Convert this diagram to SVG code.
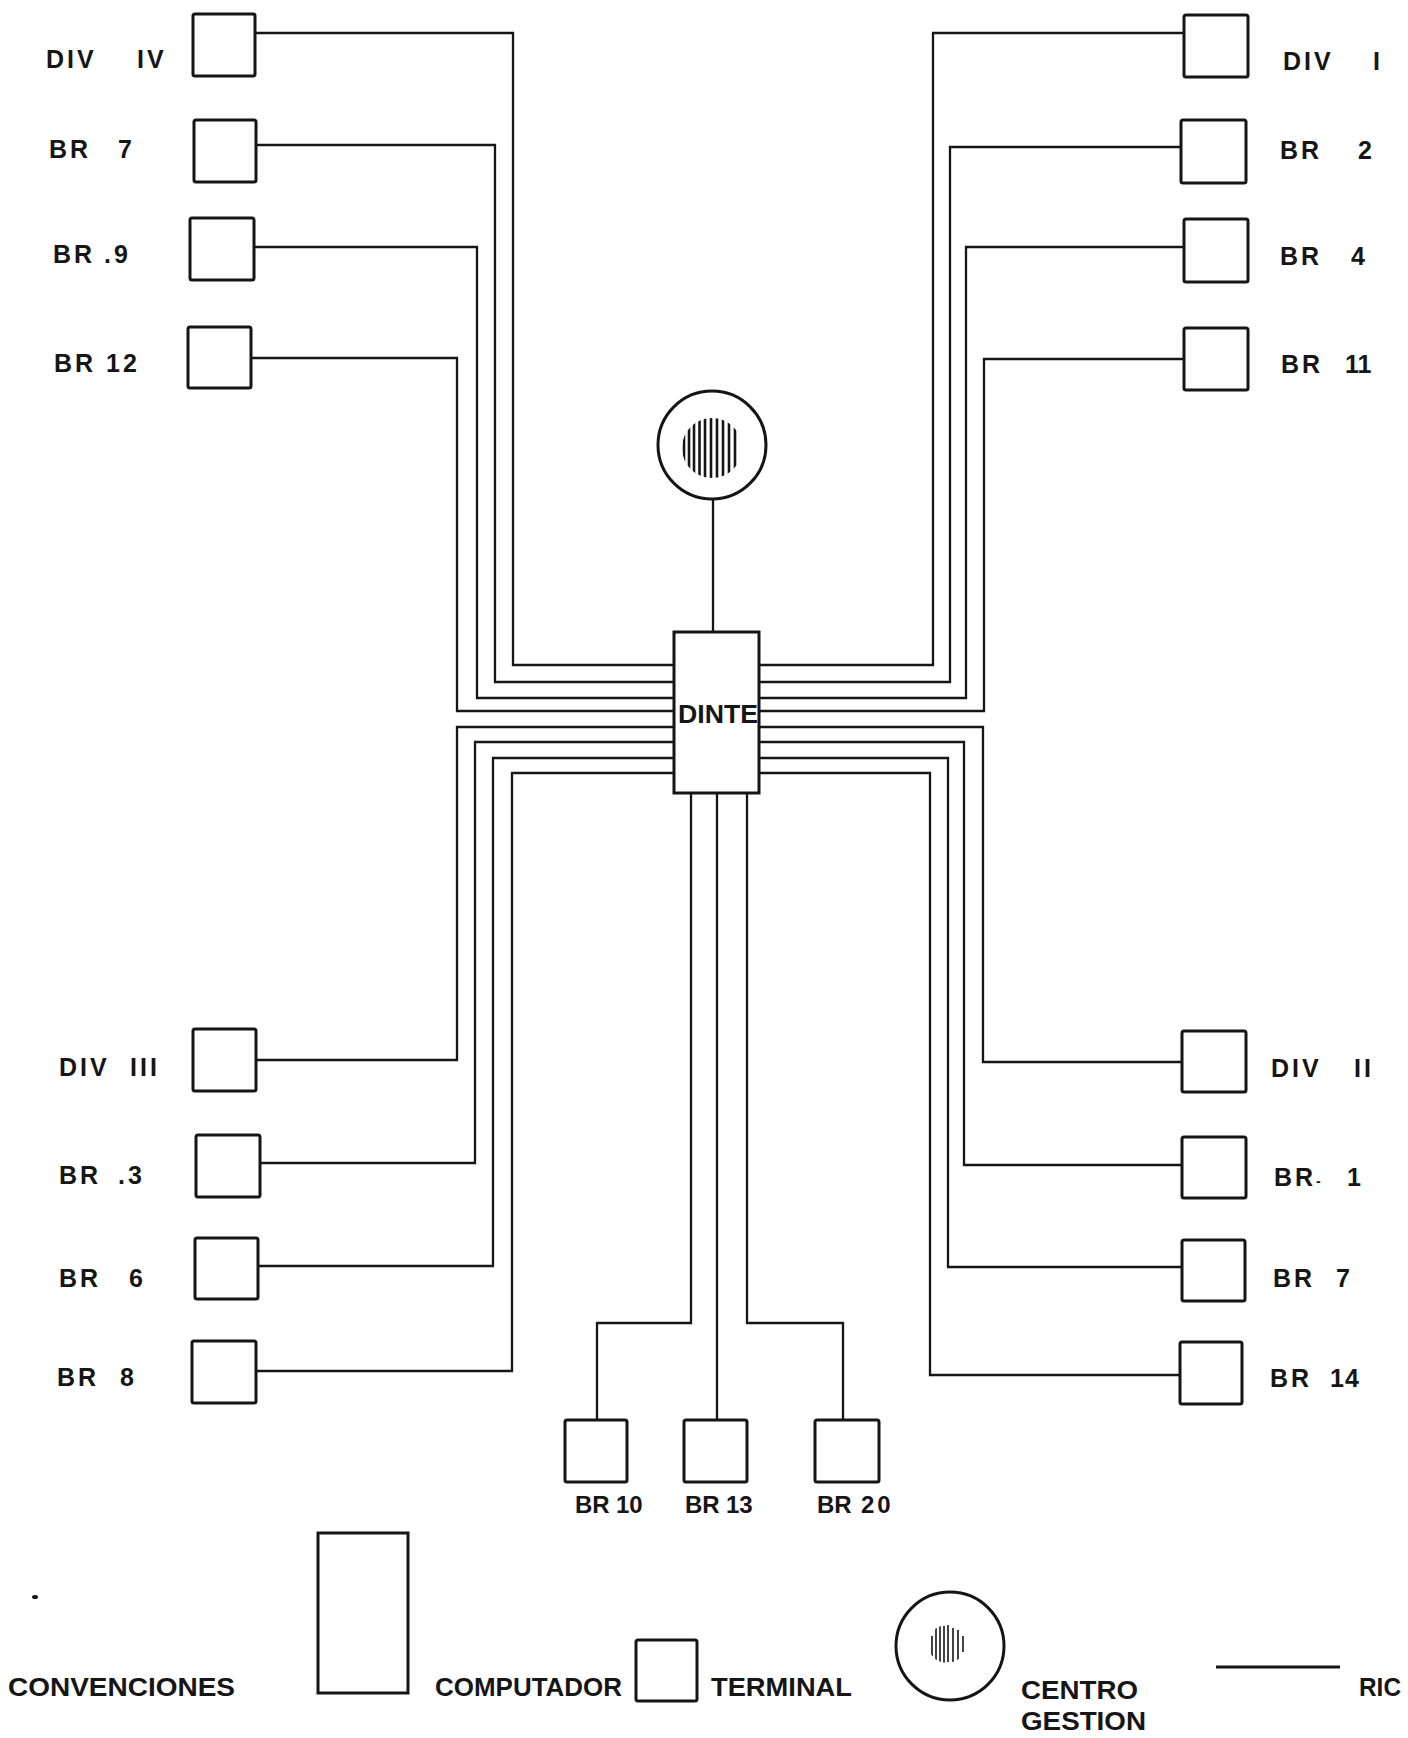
<svg xmlns="http://www.w3.org/2000/svg" width="1408" height="1738" viewBox="0 0 1408 1738">
<style>
.box{fill:none;stroke:#151515;stroke-width:3}
.wire{fill:none;stroke:#151515;stroke-width:2.3;stroke-linejoin:miter}
.lbl{font-family:"Liberation Sans",Arial,sans-serif;font-weight:700;font-size:25px;letter-spacing:3px;fill:#161616}
.lbl2{font-family:"Liberation Sans",Arial,sans-serif;font-weight:700;font-size:24px;fill:#161616}
.leg{font-family:"Liberation Sans",Arial,sans-serif;font-weight:700;font-size:26px;fill:#161616}
.hatch{stroke:#151515;stroke-width:2.6}
.hatch2{stroke:#151515;stroke-width:1.6}
</style>
<defs>
<clipPath id="hc"><circle cx="712" cy="448" r="30"/></clipPath>
<clipPath id="hc2"><circle cx="947" cy="1644" r="19"/></clipPath>
</defs>
<rect x="0" y="0" width="1408" height="1738" fill="#ffffff"/>

<g id="connectors">
<path class="wire" d="M255,33 H513 V665 H674"/>
<path class="wire" d="M256,145 H495 V682 H674"/>
<path class="wire" d="M254,247 H477 V698 H674"/>
<path class="wire" d="M251,358 H457 V711 H674"/>
<path class="wire" d="M1184,33 H933 V665 H759"/>
<path class="wire" d="M1181,147 H950 V682 H759"/>
<path class="wire" d="M1184,247 H966 V698 H759"/>
<path class="wire" d="M1184,359 H984 V711 H759"/>
<path class="wire" d="M674,727 H457 V1060 H256"/>
<path class="wire" d="M674,742 H475 V1163 H260"/>
<path class="wire" d="M674,758 H493 V1266 H258"/>
<path class="wire" d="M674,773 H512 V1371 H256"/>
<path class="wire" d="M759,727 H983 V1062 H1182"/>
<path class="wire" d="M759,742 H964 V1165 H1182"/>
<path class="wire" d="M759,758 H948 V1267 H1182"/>
<path class="wire" d="M759,773 H930 V1375 H1180"/>
<path class="wire" d="M713,499 V632"/>
<path class="wire" d="M691,793 V1323 H597 V1420"/>
<path class="wire" d="M717,793 V1420"/>
<path class="wire" d="M747,793 V1323 H843 V1420"/>
</g>

<g id="centro-gestion">
<circle class="box" cx="712" cy="445" r="54"/>
<g clip-path="url(#hc)">
<line class="hatch" x1="684" y1="410" x2="684" y2="490"/>
<line class="hatch" x1="689" y1="410" x2="689" y2="490"/>
<line class="hatch" x1="694" y1="410" x2="694" y2="490"/>
<line class="hatch" x1="699.5" y1="410" x2="699.5" y2="490"/>
<line class="hatch" x1="705" y1="410" x2="705" y2="490"/>
<line class="hatch" x1="711" y1="410" x2="711" y2="490"/>
<line class="hatch" x1="717" y1="410" x2="717" y2="490"/>
<line class="hatch" x1="723" y1="410" x2="723" y2="490"/>
<line class="hatch" x1="729" y1="410" x2="729" y2="490"/>
<line class="hatch" x1="735" y1="422" x2="735" y2="470"/>
</g>
</g>

<g id="dinte">
<rect class="box" x="674" y="632" width="85" height="161"/>
<text class="lbl" x="678" y="723" style="letter-spacing:0" textLength="80" lengthAdjust="spacingAndGlyphs">DINTE</text>
</g>

<g id="div-iv"><rect class="box" x="193" y="14" width="62" height="62" rx="2"/><text class="lbl" y="68"><tspan x="46">DIV</tspan> <tspan x="137">IV</tspan></text></g>
<g id="br-7-left"><rect class="box" x="194" y="120" width="62" height="62" rx="2"/><text class="lbl" y="158"><tspan x="49">BR</tspan> <tspan x="118">7</tspan></text></g>
<g id="br-9"><rect class="box" x="190" y="218" width="64" height="62" rx="2"/><text class="lbl" y="263"><tspan x="53">BR</tspan> <tspan x="104">.9</tspan></text></g>
<g id="br-12"><rect class="box" x="188" y="327" width="63" height="61" rx="2"/><text class="lbl" y="372"><tspan x="54">BR</tspan> <tspan x="106">12</tspan></text></g>

<g id="div-i"><rect class="box" x="1184" y="15" width="64" height="62" rx="2"/><text class="lbl" y="70"><tspan x="1283">DIV</tspan> <tspan x="1373">I</tspan></text></g>
<g id="br-2"><rect class="box" x="1181" y="120" width="65" height="63" rx="2"/><text class="lbl" y="159"><tspan x="1280">BR</tspan> <tspan x="1358">2</tspan></text></g>
<g id="br-4"><rect class="box" x="1184" y="219" width="64" height="63" rx="2"/><text class="lbl" y="265"><tspan x="1280">BR</tspan> <tspan x="1351">4</tspan></text></g>
<g id="br-11"><rect class="box" x="1184" y="328" width="64" height="62" rx="2"/><text class="lbl" y="373"><tspan x="1281">BR</tspan> <tspan x="1345" style="letter-spacing:0">11</tspan></text></g>

<g id="div-iii"><rect class="box" x="193" y="1029" width="63" height="62" rx="2"/><text class="lbl" y="1076"><tspan x="59">DIV</tspan> <tspan x="130">III</tspan></text></g>
<g id="br-3"><rect class="box" x="196" y="1135" width="64" height="62" rx="2"/><text class="lbl" y="1184"><tspan x="59">BR</tspan> <tspan x="118">.3</tspan></text></g>
<g id="br-6"><rect class="box" x="195" y="1238" width="63" height="61" rx="2"/><text class="lbl" y="1287"><tspan x="59">BR</tspan> <tspan x="129">6</tspan></text></g>
<g id="br-8"><rect class="box" x="192" y="1341" width="64" height="62" rx="2"/><text class="lbl" y="1386"><tspan x="57">BR</tspan> <tspan x="120">8</tspan></text></g>

<g id="div-ii"><rect class="box" x="1182" y="1031" width="64" height="61" rx="2"/><text class="lbl" y="1077"><tspan x="1271">DIV</tspan> <tspan x="1354">II</tspan></text></g>
<g id="br-1"><rect class="box" x="1182" y="1137" width="64" height="61" rx="2"/><text class="lbl" y="1186"><tspan x="1274">BR</tspan><tspan x="1316" style="font-size:14px">-</tspan> <tspan x="1347">1</tspan></text></g>
<g id="br-7-right"><rect class="box" x="1182" y="1240" width="63" height="61" rx="2"/><text class="lbl" y="1287"><tspan x="1273">BR</tspan> <tspan x="1336">7</tspan></text></g>
<g id="br-14"><rect class="box" x="1180" y="1342" width="62" height="62" rx="2"/><text class="lbl" y="1387"><tspan x="1270">BR</tspan> <tspan x="1330" style="letter-spacing:1px">14</tspan></text></g>

<g id="br-10"><rect class="box" x="565" y="1420" width="62" height="62" rx="2"/><text class="lbl2" y="1513"><tspan x="575">BR</tspan> <tspan x="616">10</tspan></text></g>
<g id="br-13"><rect class="box" x="684" y="1420" width="63" height="62" rx="2"/><text class="lbl2" y="1513"><tspan x="685">BR</tspan> <tspan x="726">13</tspan></text></g>
<g id="br-20"><rect class="box" x="815" y="1420" width="64" height="62" rx="2"/><text class="lbl2" y="1513"><tspan x="817">BR</tspan> <tspan x="861" style="letter-spacing:3px">20</tspan></text></g>

<g id="legend">
<ellipse cx="35" cy="1597" rx="3" ry="2" fill="#151515"/>
<text class="leg" x="8" y="1696" textLength="227" lengthAdjust="spacingAndGlyphs">CONVENCIONES</text>
<rect class="box" x="318" y="1533" width="90" height="160"/>
<text class="leg" x="435" y="1696" textLength="187" lengthAdjust="spacingAndGlyphs">COMPUTADOR</text>
<rect class="box" x="636" y="1640" width="61" height="61" rx="2"/>
<text class="leg" x="711" y="1696" textLength="141" lengthAdjust="spacingAndGlyphs">TERMINAL</text>
<circle class="box" cx="950" cy="1646" r="54"/>
<g clip-path="url(#hc2)">
<line class="hatch2" x1="932" y1="1636" x2="932" y2="1656"/>
<line class="hatch2" x1="936" y1="1628" x2="936" y2="1660"/>
<line class="hatch2" x1="940" y1="1622" x2="940" y2="1664"/>
<line class="hatch2" x1="944" y1="1626" x2="944" y2="1666"/>
<line class="hatch2" x1="948" y1="1624" x2="948" y2="1662"/>
<line class="hatch2" x1="953" y1="1628" x2="953" y2="1666"/>
<line class="hatch2" x1="958" y1="1630" x2="958" y2="1660"/>
<line class="hatch2" x1="963" y1="1636" x2="963" y2="1652"/>
</g>
<text class="leg" x="1021" y="1699" textLength="117" lengthAdjust="spacingAndGlyphs">CENTRO</text>
<text class="leg" x="1021" y="1730" textLength="125" lengthAdjust="spacingAndGlyphs">GESTION</text>
<line class="wire" x1="1216" y1="1667" x2="1340" y2="1667" style="stroke-width:2.8"/>
<text class="leg" x="1359" y="1696" textLength="42" lengthAdjust="spacingAndGlyphs">RIC</text>
</g>
</svg>
